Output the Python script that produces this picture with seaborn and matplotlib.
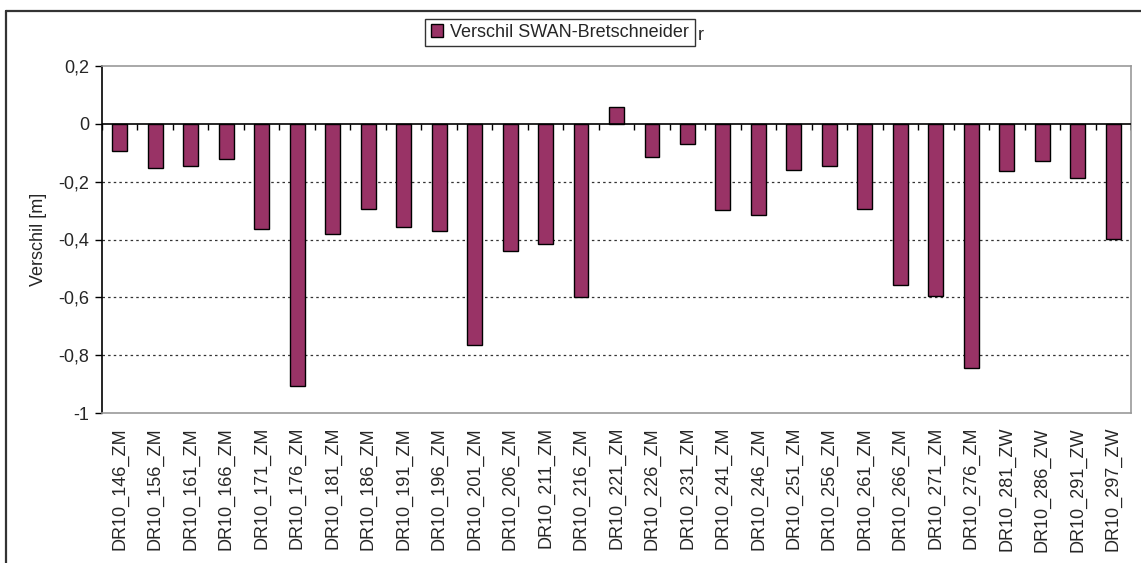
import numpy as np
import matplotlib
matplotlib.use("Agg")
import matplotlib.pyplot as plt
import seaborn as sns

# stations and differences SWAN - Bretschneider (m)
stations = ["DR10_146_ZM", "DR10_156_ZM", "DR10_161_ZM", "DR10_166_ZM", "DR10_171_ZM",
            "DR10_176_ZM", "DR10_181_ZM", "DR10_186_ZM", "DR10_191_ZM", "DR10_196_ZM",
            "DR10_201_ZM", "DR10_206_ZM", "DR10_211_ZM", "DR10_216_ZM", "DR10_221_ZM",
            "DR10_226_ZM", "DR10_231_ZM", "DR10_241_ZM", "DR10_246_ZM", "DR10_251_ZM",
            "DR10_256_ZM", "DR10_261_ZM", "DR10_266_ZM", "DR10_271_ZM", "DR10_276_ZM",
            "DR10_281_ZW", "DR10_286_ZW", "DR10_291_ZW", "DR10_297_ZW"]
verschil = [-0.093, -0.153, -0.147, -0.123, -0.362,
            -0.908, -0.380, -0.294, -0.357, -0.371,
            -0.766, -0.439, -0.415, -0.600, 0.058,
            -0.113, -0.069, -0.299, -0.317, -0.158,
            -0.147, -0.294, -0.557, -0.597, -0.845,
            -0.162, -0.129, -0.187, -0.397]
yticks = [-1, -0.8, -0.6, -0.4, -0.2, 0, 0.2]
ytick_labels = ["-1", "-0,8", "-0,6", "-0,4", "-0,2", "0", "0,2"]

sns.set_style("white")
plt.rcParams['font.family'] = ['Liberation Sans', 'DejaVu Sans']
fs = 13

fig = plt.figure(figsize=(11.41, 5.63), dpi=100)
ax = fig.add_axes([102/1141, 1-413/563, (1131-102)/1141, (413-66)/563])

sns.barplot(x=stations, y=verschil, color="#993366", edgecolor="black", linewidth=1,
            width=0.42, saturation=1, ax=ax, label="Verschil SWAN-Bretschneider", zorder=3)

n = len(stations)
ax.set_xlim(-0.5, n - 0.5)
ax.set_ylim(-1, 0.2)
ax.set_yticks(yticks)
ax.set_yticklabels(ytick_labels, fontsize=fs)
ax.set_ylabel("Verschil [m]", fontsize=fs, labelpad=8)
ax.set_xlabel("")
ax.set_xticks(range(n))
ax.set_xticklabels(stations, rotation=90, fontsize=fs, va="top")
ax.tick_params(axis="x", length=0, pad=10)
ax.tick_params(axis="y", length=5, width=1, color="black", direction="out", left=True, pad=4)

# dotted gridlines
for y in [-0.8, -0.6, -0.4, -0.2]:
    ax.axhline(y, color="#333333", linestyle=(0, (2, 2.5)), linewidth=0.9, zorder=1)
# zero line with category ticks
ax.axhline(0, color="black", linewidth=1.2, zorder=4)
ax.vlines(np.arange(n + 1) - 0.5, -0.02, 0, color="black", linewidth=1, zorder=4)

for side in ["top", "right", "bottom"]:
    ax.spines[side].set_color("#999999")
    ax.spines[side].set_linewidth(1.2)
ax.spines["left"].set_color("black")
ax.spines["left"].set_linewidth(1.2)

leg = ax.legend(loc="center", bbox_to_anchor=(560/1141, 1-32.5/563),
                bbox_transform=fig.transFigure, fontsize=fs, frameon=True,
                fancybox=False, handlelength=0.7, handleheight=0.7, handletextpad=0.4,
                borderpad=0.3, borderaxespad=0)
leg.get_frame().set_edgecolor("black")
leg.get_frame().set_linewidth(1)
fig.text(698/1141, 1-36/563, "r", fontsize=fs, va="center", ha="left")

# outer chart frame
fig.add_artist(plt.Line2D([6/1141, 6/1141], [0, 1-11/563], color="#333333", linewidth=1.6,
                          transform=fig.transFigure))
fig.add_artist(plt.Line2D([6/1141, 1], [1-11/563, 1-11/563], color="#333333", linewidth=1.6,
                          transform=fig.transFigure))

plt.savefig("out.png", dpi=100)
